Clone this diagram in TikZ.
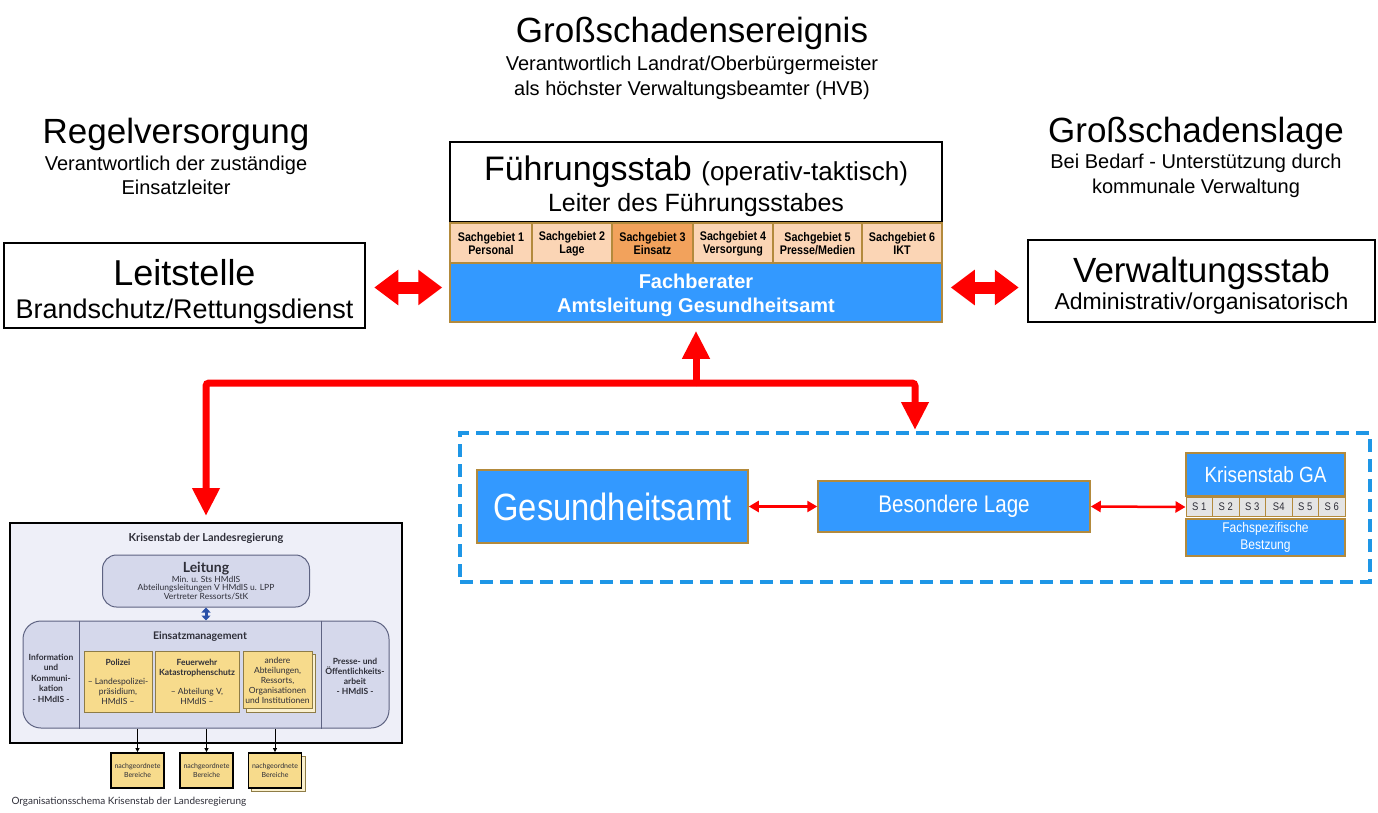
\documentclass[tikz,border=0pt]{standalone}
\usepackage{fontspec}
\setmainfont{Liberation Sans}
\newfontfamily\schmal[FakeStretch=0.86]{Liberation Sans}
\newfontfamily\lato{Lato}
\usetikzlibrary{arrows.meta}
\newcommand{\fsz}[2]{\fontsize{#1}{#2}\selectfont}
\definecolor{fbblau}{HTML}{3399FF}
\definecolor{goldrand}{HTML}{B38A3C}
\definecolor{sachhell}{HTML}{FBD5B5}
\definecolor{sachdunkel}{HTML}{F2A25C}
\definecolor{sgrau}{HTML}{E4E4E4}
\definecolor{strichblau}{HTML}{1E96E6}
\definecolor{rahmen}{HTML}{EEEFF8}
\definecolor{lila}{HTML}{D5D8EB}
\definecolor{lilarand}{HTML}{5E6382}
\definecolor{gelb}{HTML}{F7DB8C}
\definecolor{gelbhell}{HTML}{FBF1CF}
\definecolor{gelbrand}{HTML}{8E7C46}
\definecolor{schrift}{HTML}{2E2E38}
\definecolor{pfeilblau}{HTML}{2A50A8}

\begin{document}
\begin{tikzpicture}[x=1pt,y=-1pt,
    weissbox/.style={draw=black,line width=2.5,fill=white,inner sep=0,align=center},
    blaubox/.style={fill=fbblau,draw=goldrand,line width=1.5,text=white,inner sep=0,align=center},
    sach/.style={draw=goldrand,line width=1.5,inner sep=0,align=center,font=\schmal\bfseries\fsz{12.5}{13}},
    scell/.style={fill=sgrau,draw=goldrand,line width=1,inner sep=0,font=\schmal\fsz{11}{12},text=schrift},
    fatarrow/.style={draw=red,line width=12,{Triangle[width=34pt,length=24pt]}-{Triangle[width=34pt,length=24pt]}},
    redline/.style={draw=red,line width=7,-{Triangle[width=26pt,length=28pt]}},
    thinarrow/.style={draw=red,line width=2.5,{Triangle[width=11pt,length=10pt]}-{Triangle[width=11pt,length=10pt]}},
    lilabox/.style={fill=lila,draw=lilarand,line width=1,inner sep=0,align=center,text=schrift},
    gelbbox/.style={fill=gelb,draw=gelbrand,line width=0.8,inner sep=0,align=center,text=schrift,font=\lato\fsz{8.5}{10}},
    nachbox/.style={fill=gelb,draw=black,line width=1.8,minimum width=53,minimum height=35,inner sep=0,align=center,
      text=schrift,font=\lato\fsz{7}{8.5}}]
  \useasboundingbox (0,0) rectangle (1378,813);

  % Ueberschriften
  \node[anchor=north,align=center,font=\fsz{20}{25}] (ereignis) at (692,14)
    {\fsz{35}{40}Großschadensereignis\\[2.7pt]Verantwortlich Landrat/Oberbürgermeister\\als höchster Verwaltungsbeamter (HVB)};
  \node[anchor=north,align=center,font=\fsz{20}{24}] (regel) at (176,114.5)
    {\fsz{35}{40}Regelversorgung\\[3pt]Verantwortlich der zuständige\\Einsatzleiter};
  \node[anchor=north,align=center,font=\fsz{20}{25}] (schadenslage) at (1196,114)
    {\fsz{35}{40}Großschadenslage\\[0.7pt]Bei Bedarf - Unterstützung durch\\kommunale Verwaltung};

  % Fuehrungsstab
  \node[weissbox,minimum width=492,minimum height=80,font=\fsz{25}{31}] (fstab) at (696,182)
    {\fsz{34}{40}\rule{0pt}{32.3pt}Führungsstab \fsz{26}{40}(operativ-taktisch)\\Leiter des Führungsstabes};
  \foreach \l/\r/\n/\t/\c in {450/532/1/Personal/sachhell,532/612/2/Lage/sachhell,612/693/3/Einsatz/sachdunkel,
      693/773/4/Versorgung/sachhell,773/862/5/{Presse/Medien}/sachhell,862/942/6/IKT/sachhell}
    \node[sach,fill=\c,minimum width=\r-\l,minimum height=41] (sg\n) at ({(\l+\r)/2},243.5) {Sachgebiet \n\\\t};
  \node[blaubox,minimum width=492,minimum height=59,font=\bfseries\fsz{20}{24}] (fach) at (696,292.5)
    {\rule{0pt}{19.5pt}Fachberater\\Amtsleitung Gesundheitsamt};

  \node[weissbox,minimum width=361,minimum height=85,font=\fsz{27}{33}] (leit) at (184.5,285.5)
    {\fsz{36}{40}\rule{0pt}{37.7pt}Leitstelle\\Brandschutz/Rettungsdienst};
  \node[weissbox,minimum width=347,minimum height=82,font=\fsz{23}{26.6}] (verw) at (1201.5,281)
    {\fsz{35}{40}\rule{0pt}{34.4pt}Verwaltungsstab\\Administrativ/organisatorisch};

  \draw[fatarrow,shorten <=8pt,shorten >=7pt] (leit.east |- fach.west) ++(0,-5) coordinate (la) -- (la -| fach.west);
  \draw[fatarrow,shorten <=8pt,shorten >=8pt] (fach.east) ++(0,-5) coordinate (ra) -- (ra -| verw.west);

  % Verteilung
  \coordinate (junc) at (696,383);
  \draw[redline,shorten >=8pt] (junc) -- (fach.south);

  % Besondere Lage
  \node[draw=strichblau,line width=4,dash pattern=on 13pt off 7pt,minimum width=910,minimum height=149] (lage) at (915,507.5) {};
  \node[blaubox,minimum width=271,minimum height=73,font=\schmal\fsz{38}{40}] (ges) at (612.5,506.5) {Gesundheitsamt};
  \node[blaubox,minimum width=272,minimum height=51,font=\schmal\fsz{24}{26}] (bes) at (954,506.5) {Besondere Lage};
  \node[blaubox,minimum width=159,minimum height=43,font=\schmal\fsz{22}{24}] (kga) at (1265.5,474.5) {Krisenstab GA};
  \foreach \i/\t in {1/S 1,2/S 2,3/S 3,4/S4,5/S 5,6/S 6}
    \node[scell,minimum width=26.5,minimum height=19] (s\i) at ({1186+26.5*(\i-0.5)},507) {\t};
  \node[blaubox,minimum width=159,minimum height=37,font=\schmal\fsz{14}{17}] (fachspez) at (1265.5,537.5) {Fachspezifische\\Bestzung};
  \draw[thinarrow] (ges.east) -- (bes.west);
  \draw[thinarrow] (bes.east) -- (s1.west);

  % Krisenstab der Landesregierung
  \node[draw=black,line width=2,fill=rahmen,minimum width=392,minimum height=220] (kris) at (206,633) {};
  \node[text=schrift,font=\lato\bfseries\fsz{11}{13}] (kristitel) at (206,538) {Krisenstab der Landesregierung};
  \node[lilabox,rounded corners=14,minimum width=207,minimum height=52,font=\lato\fsz{8.5}{8.5}] (leitung) at (206,581)
    {\bfseries\fsz{14}{16}Leitung\\Min. u. Sts HMdIS\\Abteilungsleitungen V HMdIS u. LPP\\Vertreter Ressorts/StK};
  \node[lilabox,rounded corners=18,minimum width=366,minimum height=107] (einsatz) at (206,674.5) {};
  \draw[lilarand,line width=1] (79,0 |- einsatz.north) -- (79,0 |- einsatz.south);
  \draw[lilarand,line width=1] (321,0 |- einsatz.north) -- (321,0 |- einsatz.south);
  \draw[pfeilblau,line width=3,{Triangle[width=9pt,length=5pt]}-{Triangle[width=9pt,length=5pt]}] (leitung.south) -- (einsatz.north);
  \node[text=schrift,font=\lato\bfseries\fsz{10.5}{12}] (einsatztitel) at (200,637) {Einsatzmanagement};
  \node[text=schrift,align=center,font=\lato\bfseries\fsz{8.5}{10.5}] (info) at (51,678)
    {Information\\und\\Kommuni-\\kation\\- HMdIS -};
  \node[text=schrift,align=center,font=\lato\bfseries\fsz{8.5}{10}] (presse) at (355,676)
    {Presse- und\\Öffentlichkeits-\\arbeit\\- HMdIS -};
  \node[gelbbox,minimum width=68,minimum height=61] (polizei) at (118,681.5)
    {\textbf{Polizei}\\[9pt]– Landespolizei-\\präsidium,\\HMdIS –};
  \node[gelbbox,minimum width=84,minimum height=61] (feuer) at (197,681.5)
    {\textbf{Feuerwehr}\\\textbf{Katastrophenschutz}\\[9pt]– Abteilung V,\\HMdIS –};
  \filldraw[fill=gelbhell,draw=gelbrand,line width=0.8] (246,654) rectangle (315,712);
  \node[gelbbox,minimum width=69,minimum height=57] (andere) at (277.5,680)
    {andere\\Abteilungen,\\Ressorts,\\Organisationen\\und Institutionen};

  \node[nachbox] (n1) at (137.5,770.5) {nachgeordnete\\Bereiche};
  \node[nachbox] (n2) at (206.5,770.5) {nachgeordnete\\Bereiche};
  \filldraw[fill=gelbhell,draw=gelbrand,line width=0.8] (251,756) rectangle (305,791);
  \node[nachbox] (n3) at (275,770.5) {nachgeordnete\\Bereiche};
  \foreach \n in {n1,n2,n3}
    \draw[black,line width=0.8,-{Triangle[width=4pt,length=4pt]}] (\n.north |- einsatz.south) -- (\n.north);
  \node[anchor=west,text=schrift,font=\lato\fsz{10}{12}] (caption) at (8,802) {Organisationsschema Krisenstab der Landesregierung};

  % rote Verbindungen
  \draw[redline,rounded corners=3,shorten >=6pt] (junc) -| (kris.north);
  \draw[redline,rounded corners=3,shorten >=1pt] (junc) -| (lage.north);
\end{tikzpicture}
\end{document}
